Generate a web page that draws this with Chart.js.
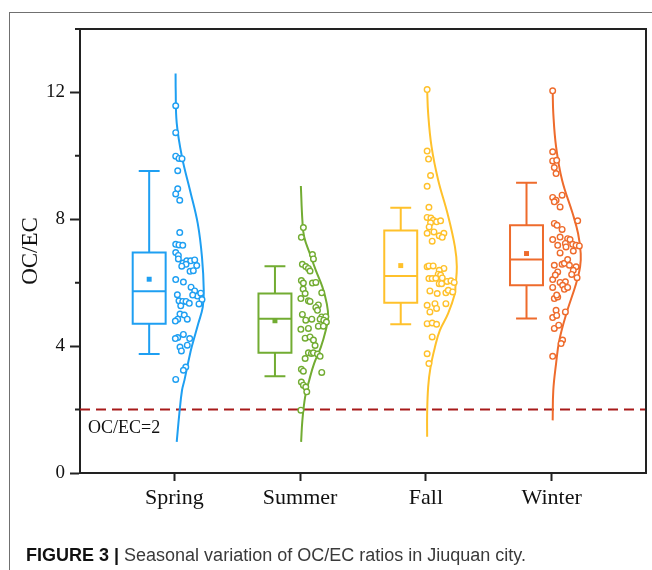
<!DOCTYPE html>
<html>
<head>
<meta charset="utf-8">
<script src="https://cdn.jsdelivr.net/npm/chart.js@4.4.1/dist/chart.umd.min.js"></script>
<style>
  html, body { margin: 0; padding: 0; background: #fff; }
  #wrap { position: relative; width: 652px; height: 570px; overflow: hidden; }
  #frame { position: absolute; left: 9px; top: 12px; width: 700px; height: 600px; border-top: 1px solid #707070; border-left: 1px solid #707070; }
  canvas { position: absolute; left: 0; top: 0; }
  #caption { position: absolute; left: 26px; top: 546px; font-family: 'Liberation Sans', Arial, sans-serif; font-size: 18px; line-height: 18px; color: #3a3a3a; white-space: nowrap; }
  #caption b { color: #111; }
</style>
</head>
<body>
<div id="wrap">
  <div id="frame"></div>
  <canvas id="myChart" width="652" height="570"></canvas>
  <div id="caption"><b>FIGURE 3 |</b> Seasonal variation of OC/EC ratios in Jiuquan city.</div>
</div>
<script>
// categories and colours
var seasons = ['Spring', 'Summer', 'Fall', 'Winter'];
var colors = ['#1E9FF2', '#72AC32', '#FFC12B', '#EE6B2C'];

// box statistics
var whiskerLow = [3.75, 3.05, 4.69, 4.87];
var q1 = [4.71, 3.79, 5.37, 5.92];
var median = [5.73, 4.86, 6.21, 6.73];
var q3 = [6.95, 5.66, 7.65, 7.81];
var whiskerHigh = [9.52, 6.52, 8.36, 9.15];
var means = [6.11, 4.80, 6.54, 6.92];

var threshold = 2;

// raw points (OC/EC) and their horizontal jitter
var springVals = [11.58, 10.73, 9.99, 9.92, 9.91, 9.53, 8.96, 8.80, 8.60, 7.58, 7.21, 7.19, 7.18, 6.95, 6.86, 6.75, 6.62, 6.69, 6.69, 6.72, 6.54, 6.58, 6.52, 6.36, 6.38, 6.10, 6.02, 5.86, 5.74, 5.58, 5.67, 5.61, 5.62, 5.43, 5.41, 5.41, 5.35, 5.27, 5.47, 5.33, 5.01, 4.98, 4.85, 4.85, 4.79, 4.37, 4.27, 4.24, 4.24, 4.03, 3.97, 3.85, 3.34, 3.24, 2.95];
var springJit = [0.011, 0.011, 0.011, 0.037, 0.061, 0.027, 0.027, 0.011, 0.043, 0.043, 0.011, 0.037, 0.067, 0.011, 0.032, 0.032, 0.069, 0.099, 0.130, 0.162, 0.178, 0.093, 0.059, 0.125, 0.151, 0.011, 0.072, 0.133, 0.162, 0.183, 0.210, 0.146, 0.024, 0.037, 0.067, 0.093, 0.119, 0.051, 0.220, 0.196, 0.045, 0.079, 0.103, 0.027, 0.008, 0.072, 0.027, 0.008, 0.122, 0.103, 0.045, 0.056, 0.091, 0.072, 0.011];

var summerVals = [7.74, 7.43, 6.89, 6.75, 6.58, 6.51, 6.45, 6.37, 6.07, 5.99, 5.99, 6.01, 5.80, 5.66, 5.68, 5.50, 5.43, 5.41, 5.30, 5.22, 5.13, 5.00, 4.82, 4.85, 4.92, 4.93, 4.85, 4.82, 4.76, 4.63, 4.63, 4.53, 4.56, 4.25, 4.29, 4.19, 4.02, 3.79, 3.77, 3.79, 3.75, 3.68, 3.61, 3.27, 3.21, 3.17, 2.87, 2.77, 2.71, 2.56, 1.98];
var summerJit = [0.026, 0.010, 0.098, 0.106, 0.018, 0.045, 0.066, 0.079, 0.010, 0.026, 0.098, 0.125, 0.024, 0.040, 0.172, 0.006, 0.066, 0.079, 0.145, 0.125, 0.138, 0.018, 0.045, 0.093, 0.172, 0.204, 0.159, 0.188, 0.209, 0.145, 0.185, 0.006, 0.066, 0.040, 0.079, 0.106, 0.119, 0.066, 0.090, 0.106, 0.138, 0.159, 0.040, 0.010, 0.026, 0.172, 0.010, 0.026, 0.045, 0.053, 0.006];

var fallVals = [12.09, 10.15, 9.90, 9.38, 9.04, 8.38, 8.06, 8.04, 7.97, 7.92, 7.95, 7.89, 7.76, 7.56, 7.60, 7.56, 7.48, 7.43, 7.31, 6.50, 6.53, 6.53, 6.45, 6.39, 6.27, 6.24, 6.13, 6.13, 6.14, 6.15, 6.04, 6.06, 6.01, 5.97, 5.97, 5.74, 5.66, 5.68, 5.34, 5.34, 5.29, 5.19, 5.08, 4.71, 4.73, 4.69, 4.29, 3.76, 3.45, 5.76, 5.71];
var fallJit = [0.010, 0.010, 0.021, 0.037, 0.010, 0.024, 0.010, 0.040, 0.058, 0.085, 0.117, 0.037, 0.026, 0.010, 0.064, 0.143, 0.106, 0.130, 0.050, 0.010, 0.024, 0.058, 0.143, 0.106, 0.098, 0.117, 0.024, 0.050, 0.079, 0.130, 0.169, 0.199, 0.225, 0.106, 0.125, 0.032, 0.090, 0.159, 0.072, 0.159, 0.010, 0.085, 0.032, 0.010, 0.050, 0.085, 0.050, 0.010, 0.024, 0.178, 0.213];

var winterVals = [12.05, 10.13, 9.84, 9.86, 9.63, 9.44, 8.69, 8.60, 8.55, 8.76, 8.39, 7.95, 7.87, 7.81, 7.68, 7.36, 7.44, 7.39, 7.36, 7.18, 7.24, 7.21, 7.18, 7.16, 7.13, 7.00, 6.94, 6.55, 6.58, 6.61, 6.55, 6.50, 6.73, 6.34, 6.39, 6.16, 6.26, 6.10, 6.24, 6.01, 6.03, 5.92, 5.85, 5.79, 5.85, 5.50, 5.55, 5.61, 5.08, 5.13, 4.90, 4.97, 4.56, 4.66, 4.19, 4.08, 3.68];
var winterJit = [0.008, 0.008, 0.008, 0.040, 0.021, 0.035, 0.008, 0.035, 0.021, 0.083, 0.067, 0.207, 0.021, 0.043, 0.083, 0.008, 0.067, 0.127, 0.146, 0.048, 0.109, 0.167, 0.194, 0.220, 0.114, 0.172, 0.067, 0.021, 0.083, 0.101, 0.141, 0.194, 0.127, 0.048, 0.172, 0.202, 0.159, 0.008, 0.029, 0.067, 0.109, 0.087, 0.008, 0.101, 0.127, 0.021, 0.048, 0.040, 0.109, 0.035, 0.008, 0.040, 0.021, 0.056, 0.087, 0.075, 0.008];

// distribution curves: OC/EC level and curve width
var springCurveY = [12.6, 12.06, 11.03, 9.96, 8.91, 7.87, 6.80, 5.76, 5.23, 4.72, 3.97, 3.65, 2.92, 2.61, 1.88, 0.98];
var springCurveW = [0.010, 0.011, 0.019, 0.061, 0.125, 0.186, 0.220, 0.234, 0.226, 0.191, 0.138, 0.119, 0.080, 0.061, 0.040, 0.019];
var summerCurveY = [9.05, 7.97, 7.45, 6.92, 6.39, 5.87, 5.34, 4.92, 4.50, 3.97, 3.45, 2.92, 2.40, 1.66, 0.98];
var summerCurveW = [0.006, 0.018, 0.032, 0.077, 0.125, 0.177, 0.212, 0.223, 0.204, 0.165, 0.111, 0.072, 0.040, 0.018, 0.008];
var fallCurveY = [12.1, 11.34, 10.29, 9.23, 8.18, 7.13, 6.50, 5.87, 5.66, 5.03, 4.50, 3.97, 3.34, 2.71, 1.87, 1.14];
var fallCurveW = [0.010, 0.018, 0.045, 0.098, 0.172, 0.231, 0.246, 0.235, 0.231, 0.177, 0.111, 0.072, 0.037, 0.018, 0.010, 0.010];
var winterCurveY = [12.05, 11.34, 10.29, 9.23, 8.18, 7.55, 6.92, 6.50, 5.97, 5.03, 4.19, 3.45, 2.61, 1.66];
var winterCurveW = [0.008, 0.013, 0.035, 0.083, 0.167, 0.210, 0.231, 0.226, 0.194, 0.117, 0.061, 0.035, 0.013, 0.008];

var pointVals = [springVals, summerVals, fallVals, winterVals];
var pointJit = [springJit, summerJit, fallJit, winterJit];
var curveY = [springCurveY, summerCurveY, fallCurveY, winterCurveY];
var curveW = [springCurveW, summerCurveW, fallCurveW, winterCurveW];

var boxShift = -0.2, boxHalf = 0.131, capHalf = 0.083;

var datasets = [];
seasons.forEach(function (name, i) {
  var c = i + 1, bx = c + boxShift, col = colors[i];

  // box
  datasets.push({
    type: 'line', order: 2, borderColor: col, borderWidth: 2, pointRadius: 0,
    borderCapStyle: 'square', borderJoinStyle: 'miter', tension: 0,
    data: [{x: bx - boxHalf, y: q1[i]}, {x: bx + boxHalf, y: q1[i]}, {x: bx + boxHalf, y: q3[i]},
           {x: bx - boxHalf, y: q3[i]}, {x: bx - boxHalf, y: q1[i]}]
  });
  // median
  datasets.push({
    type: 'line', order: 2, borderColor: col, borderWidth: 2, pointRadius: 0,
    data: [{x: bx - boxHalf, y: median[i]}, {x: bx + boxHalf, y: median[i]}]
  });
  // whiskers + caps
  datasets.push({
    type: 'line', order: 2, borderColor: col, borderWidth: 2, pointRadius: 0, spanGaps: false,
    data: [{x: bx - capHalf, y: whiskerHigh[i]}, {x: bx + capHalf, y: whiskerHigh[i]}, {x: bx, y: null},
           {x: bx, y: whiskerHigh[i]}, {x: bx, y: q3[i]}, {x: bx, y: null},
           {x: bx, y: q1[i]}, {x: bx, y: whiskerLow[i]}, {x: bx, y: null},
           {x: bx - capHalf, y: whiskerLow[i]}, {x: bx + capHalf, y: whiskerLow[i]}]
  });
  // mean
  datasets.push({
    type: 'scatter', order: 0, pointStyle: 'rect', pointRadius: 3.5, borderWidth: 0,
    backgroundColor: col, borderColor: col,
    data: [{x: bx, y: means[i]}]
  });
  // raw points
  datasets.push({
    type: 'scatter', order: 1, pointRadius: 2.8, borderWidth: 1.4,
    backgroundColor: '#fff', borderColor: col,
    data: pointVals[i].map(function (v, k) { return {x: c + pointJit[i][k], y: v}; })
  });
  // distribution curve
  datasets.push({
    type: 'line', order: 3, borderColor: col, borderWidth: 2, pointRadius: 0, tension: 0.4,
    data: curveY[i].map(function (v, k) { return {x: c + curveW[i][k], y: v}; })
  });
});

// OC/EC = 2 reference line
datasets.push({
  type: 'line', order: 4, borderColor: '#A81A1A', borderWidth: 2, borderDash: [10, 6], pointRadius: 0,
  data: [{x: 0.25, y: threshold}, {x: 4.75, y: threshold}]
});

var framePlugin = {
  id: 'frame',
  afterDraw: function (chart) {
    var a = chart.chartArea, g = chart.ctx, ys = chart.scales.y;
    g.save();
    g.strokeStyle = '#222';
    g.lineWidth = 2;
    g.beginPath();
    g.moveTo(a.left, a.top);
    g.lineTo(a.right, a.top);
    g.lineTo(a.right, a.bottom);
    // minor y ticks
    ys.ticks.forEach(function (t) {
      if (t.value % 4 !== 0) {
        var p = ys.getPixelForValue(t.value);
        g.moveTo(a.left - 5, p);
        g.lineTo(a.left, p);
      }
    });
    g.stroke();
    g.fillStyle = '#111';
    g.font = '18px "Liberation Serif"';
    g.textBaseline = 'alphabetic';
    g.fillText('OC/EC=' + threshold, a.left + 8, ys.getPixelForValue(threshold) + 23);
    g.restore();
  }
};

var ctx = document.getElementById('myChart').getContext('2d');
var chart = new Chart(ctx, {
  type: 'scatter',
  data: { datasets: datasets },
  options: {
    responsive: false,
    animation: false,
    layout: { padding: { left: 10, right: 6, top: 29, bottom: 0 } },
    plugins: { legend: { display: false }, tooltip: { enabled: false } },
    scales: {
      x: {
        type: 'linear', min: 0.25, max: 4.75,
        afterBuildTicks: function (s) { s.ticks = seasons.map(function (n, i) { return { value: i + 1 }; }); },
        afterFit: function (s) { s.height = 97; },
        ticks: {
          callback: function (v) { return seasons[v - 1]; },
          font: { family: 'Liberation Serif', size: 22 }, color: '#111', padding: 4,
          maxRotation: 0, autoSkip: false
        },
        grid: { drawOnChartArea: false, tickLength: 8, tickWidth: 2, tickColor: '#222' },
        border: { color: '#222', width: 2 }
      },
      y: {
        min: 0, max: 14,
        afterFit: function (s) { s.width = 70; },
        ticks: {
          stepSize: 2,
          callback: function (v) { return v % 4 === 0 ? v : ''; },
          font: { family: 'Liberation Serif', size: 19 }, color: '#111', padding: 5
        },
        grid: {
          drawOnChartArea: false, tickLength: 10, tickWidth: 2,
          tickColor: function (c) { return c.tick && c.tick.value % 4 === 0 ? '#222' : 'rgba(0,0,0,0)'; }
        },
        border: { color: '#222', width: 2 },
        title: { display: true, text: 'OC/EC', font: { family: 'Liberation Serif', size: 23 }, color: '#111', padding: { top: 7 } }
      }
    }
  },
  plugins: [framePlugin]
});
</script>
</body>
</html>
